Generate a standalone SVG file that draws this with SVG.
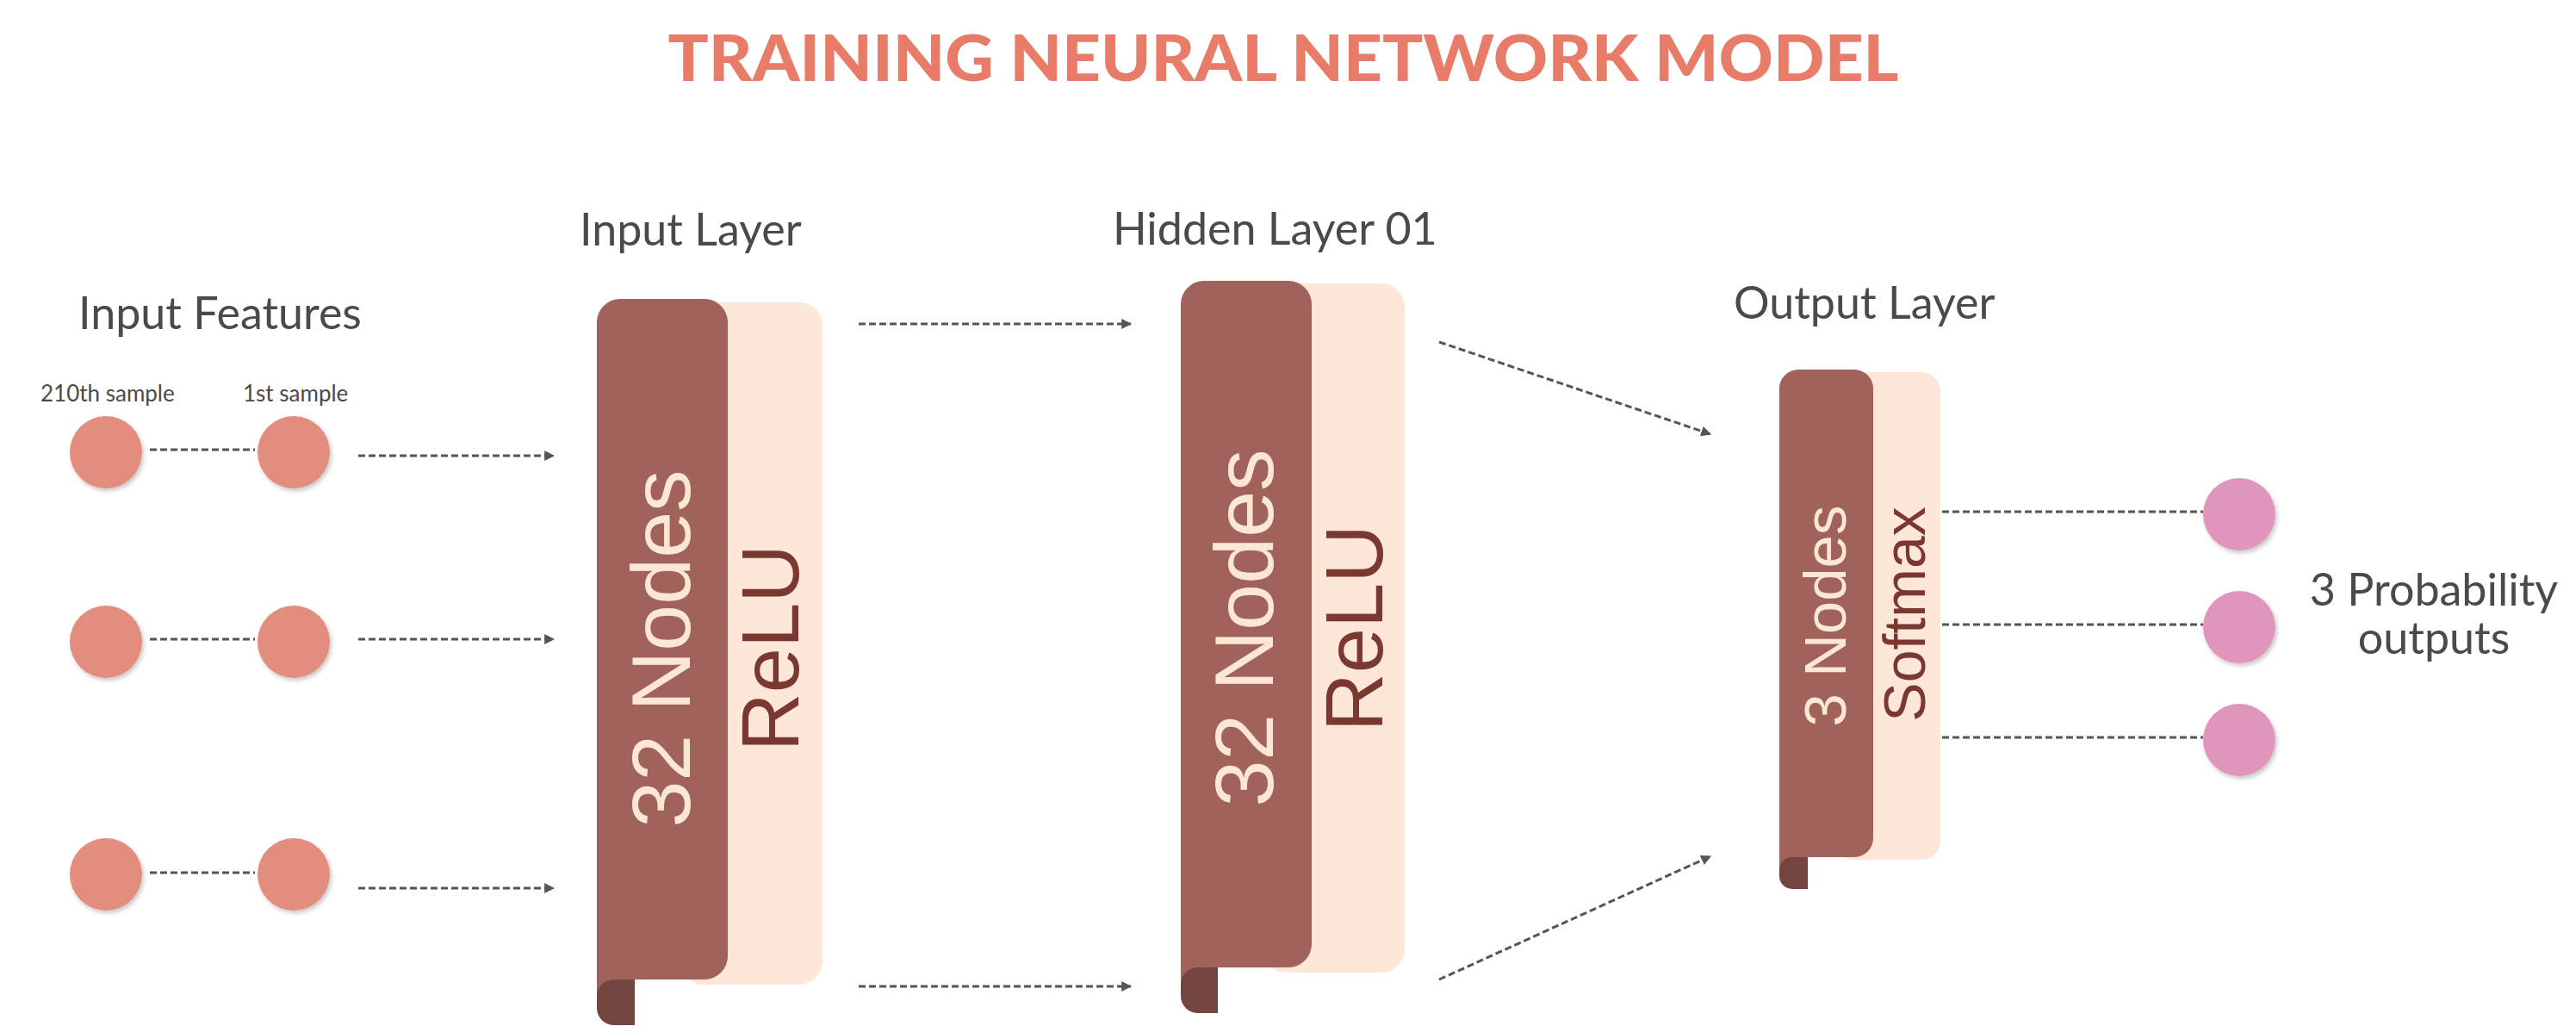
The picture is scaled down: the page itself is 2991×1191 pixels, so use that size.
<svg xmlns="http://www.w3.org/2000/svg" width="2991" height="1191" viewBox="0 0 2991 1191">
<defs>
<style>
.lbl{font-family:Lato,"Liberation Sans",sans-serif;fill:#4a4a4a;font-size:52px}
.sm{font-family:Lato,"Liberation Sans",sans-serif;fill:#4a4a4a;font-size:26px}
.title{font-family:Lato,"Liberation Sans",sans-serif;font-weight:900;fill:#E97C68;font-size:75px}
.rot{font-family:"Liberation Sans",Arial,sans-serif}
.nodes{fill:#FCE6D6}
.act{fill:#7A3830}
.dark{fill:#A0625A}
.light{fill:#FEE7D8}
.tab{fill:#744440}
.in{fill:#E38D7E}
.out{fill:#E096BC}
.con{stroke:#555;stroke-width:3;stroke-dasharray:8 4;fill:none}
</style>
<marker id="ah" viewBox="0 0 10 10" refX="9" refY="5" markerWidth="4" markerHeight="4" orient="auto" markerUnits="strokeWidth">
<path d="M0,0 L10,5 L0,10 z" fill="#555"/>
</marker>
<filter id="sh" x="-30%" y="-30%" width="160%" height="160%">
<feDropShadow dx="2" dy="3" stdDeviation="2.5" flood-color="#000" flood-opacity="0.22"/>
</filter>
</defs>
<rect width="2991" height="1191" fill="#fff"/>
<text class="title" x="1490" y="94" text-anchor="middle" textLength="1429" lengthAdjust="spacingAndGlyphs">TRAINING NEURAL NETWORK MODEL</text>

<g id="input-features">
<text class="lbl" x="91" y="382">Input Features</text>
<text class="sm" x="47" y="466">210th sample</text>
<text class="sm" x="282" y="466">1st sample</text>
<g filter="url(#sh)">
<circle class="in" cx="123" cy="525" r="42"/>
<circle class="in" cx="341" cy="525" r="42"/>
<circle class="in" cx="123" cy="745" r="42"/>
<circle class="in" cx="341" cy="745" r="42"/>
<circle class="in" cx="123" cy="1015" r="42"/>
<circle class="in" cx="341" cy="1015" r="42"/>
</g>
</g>

<g id="input-layer">
<text class="lbl" x="673" y="285">Input Layer</text>
<rect class="light" x="790" y="351" width="165" height="792" rx="27"/>
<path class="dark" d="M693,374 a27,27 0 0 1 27,-27 h98 a27,27 0 0 1 27,27 v736 a27,27 0 0 1 -27,27 h-98 v25 h-27 z"/>
<path class="tab" d="M737,1137 v53 h-24 a20,20 0 0 1 -20,-20 v-13 a20,20 0 0 1 20,-20 z"/>
<text class="rot nodes" font-size="97" transform="translate(801,753) rotate(-90)" text-anchor="middle">32 Nodes</text>
<text class="rot act" font-size="94" transform="translate(927,752) rotate(-90)" text-anchor="middle">ReLU</text>
</g>

<g id="hidden-layer">
<text class="lbl" x="1292" y="284">Hidden Layer 01</text>
<rect class="light" x="1466" y="329" width="165" height="800" rx="27"/>
<path class="dark" d="M1371,353 a27,27 0 0 1 27,-27 h98 a27,27 0 0 1 27,27 v743 a27,27 0 0 1 -27,27 h-98 v25 h-27 z"/>
<path class="tab" d="M1414,1123 v53 h-23 a20,20 0 0 1 -20,-20 v-13 a20,20 0 0 1 20,-20 z"/>
<text class="rot nodes" font-size="97" transform="translate(1478,729) rotate(-90)" text-anchor="middle">32 Nodes</text>
<text class="rot act" font-size="94" transform="translate(1605,729) rotate(-90)" text-anchor="middle">ReLU</text>
</g>

<g id="output-layer">
<text class="lbl" x="2013" y="370">Output Layer</text>
<rect class="light" x="2130" y="432" width="123" height="566" rx="22"/>
<path class="dark" d="M2066,451 a22,22 0 0 1 22,-22 h65 a22,22 0 0 1 22,22 v522 a22,22 0 0 1 -22,22 h-65 v18 h-22 z"/>
<path class="tab" d="M2099,995 v37 h-18 a15,15 0 0 1 -15,-15 v-7 a15,15 0 0 1 15,-15 z"/>
<text class="rot nodes" font-size="69" transform="translate(2143,715) rotate(-90)" text-anchor="middle">3 Nodes</text>
<text class="rot act" font-size="68" transform="translate(2235,713) rotate(-90)" text-anchor="middle">Softmax</text>
</g>

<g id="outputs">
<g filter="url(#sh)">
<circle class="out" cx="2600" cy="597" r="42"/>
<circle class="out" cx="2600" cy="728" r="42"/>
<circle class="out" cx="2600" cy="859" r="42"/>
</g>
<text class="lbl" x="2826" y="703" text-anchor="middle">3 Probability</text>
<text class="lbl" x="2826" y="759" text-anchor="middle">outputs</text>
</g>

<g id="connectors">
<line class="con" x1="174" y1="522" x2="296" y2="522"/>
<line class="con" x1="174" y1="742" x2="296" y2="742"/>
<line class="con" x1="174" y1="1013" x2="296" y2="1013"/>
<line class="con" x1="416" y1="529" x2="643" y2="529" marker-end="url(#ah)"/>
<line class="con" x1="416" y1="742" x2="643" y2="742" marker-end="url(#ah)"/>
<line class="con" x1="416" y1="1031" x2="643" y2="1031" marker-end="url(#ah)"/>
<line class="con" x1="997" y1="376" x2="1313" y2="376" marker-end="url(#ah)"/>
<line class="con" x1="997" y1="1145" x2="1313" y2="1145" marker-end="url(#ah)"/>
<line class="con" x1="1671" y1="397" x2="1986" y2="504" marker-end="url(#ah)"/>
<line class="con" x1="1671" y1="1137" x2="1986" y2="994" marker-end="url(#ah)"/>
<line class="con" x1="2255" y1="594" x2="2558" y2="594"/>
<line class="con" x1="2255" y1="725" x2="2558" y2="725"/>
<line class="con" x1="2255" y1="856" x2="2558" y2="856"/>
</g>
</svg>
